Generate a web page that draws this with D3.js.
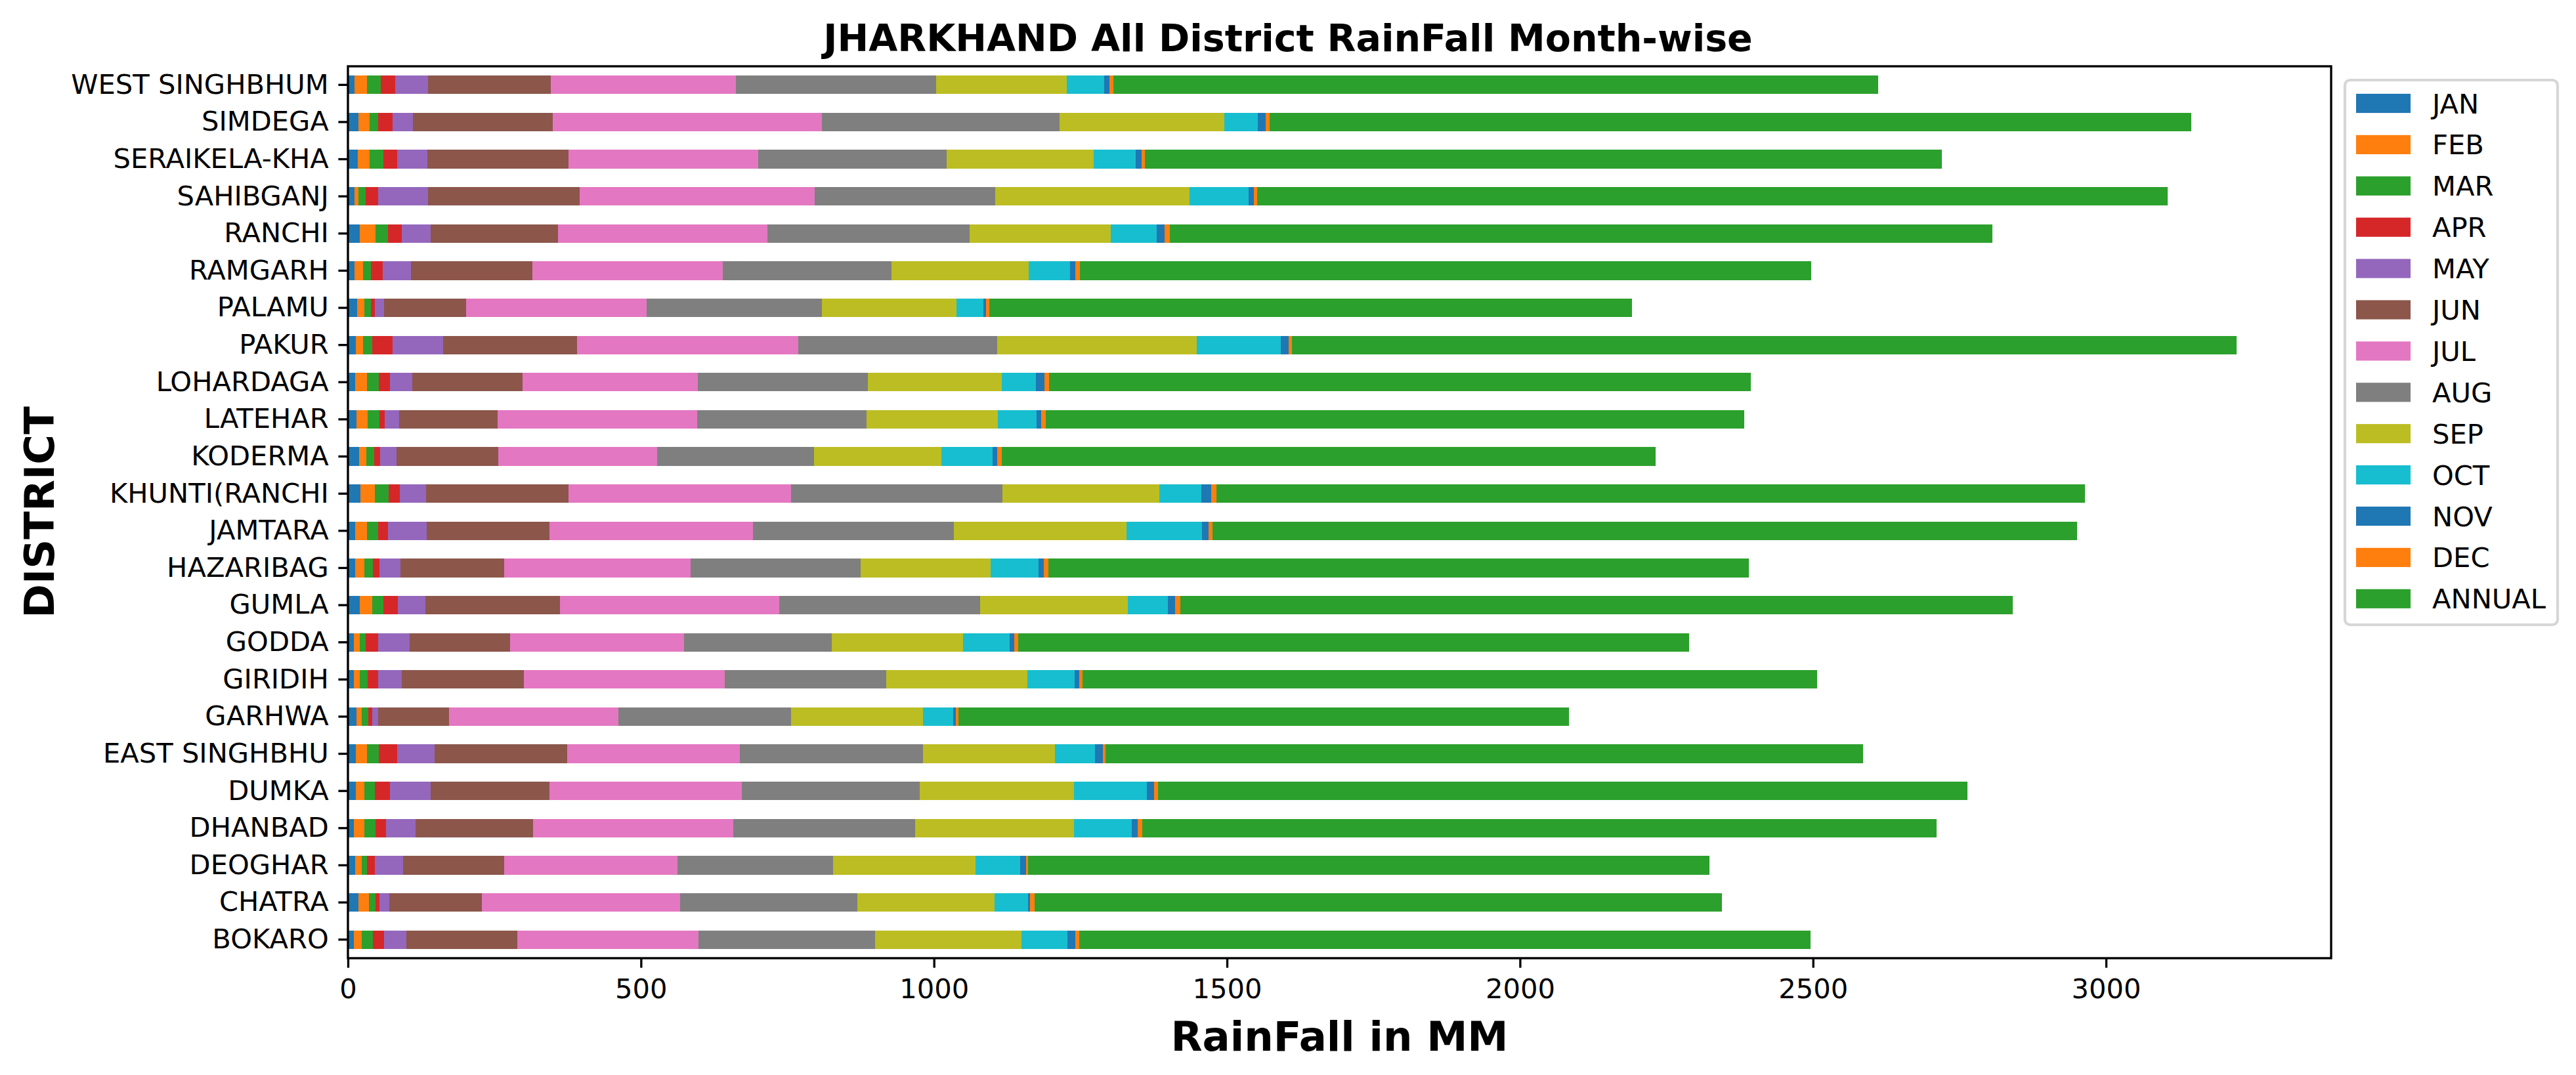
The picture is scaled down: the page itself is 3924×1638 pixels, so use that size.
<!DOCTYPE html>
<html><head><meta charset="utf-8">
<script src="https://cdn.jsdelivr.net/npm/d3@7"></script>
<style>
body{margin:0;background:#fff}
svg{display:block}
text{font-family:"DejaVu Sans",sans-serif}
</style>
</head><body>
<svg id="c" width="3924" height="1638"></svg>
<script>
// ---------- DATA ----------
const districts = ["BOKARO","CHATRA","DEOGHAR","DHANBAD","DUMKA","EAST SINGHBHU","GARHWA","GIRIDIH","GODDA","GUMLA","HAZARIBAG","JAMTARA","KHUNTI(RANCHI","KODERMA","LATEHAR","LOHARDAGA","PAKUR","PALAMU","RAMGARH","RANCHI","SAHIBGANJ","SERAIKELA-KHA","SIMDEGA","WEST SINGHBHUM"];
const seriesNames = ["JAN","FEB","MAR","APR","MAY","JUN","JUL","AUG","SEP","OCT","NOV","DEC","ANNUAL"];
const JAN = [10,18,12,10,14,14,15,10,10,20,12,12,21,19,15,12,14,16,11,20,11,17,18,11];
const FEB = [14,18,11,18,14,18,9,10,10,21,16,21,25,12,19,21,12,12,15,27,7,20,19,22];
const MAR = [19,11,10,19,18,21,11,14,10,19,15,18,24,14,20,20,16,11,13,21,12,23,14,23];
const APR = [19,7,13,18,26,31,7,18,21,25,11,17,18,10,9,19,34,7,20,24,22,24,25,25];
const MAY = [38,17,48,50,69,64,10,40,54,47,36,66,45,28,24,38,86,16,48,49,85,52,35,56];
const JUN = [189,158,173,201,203,226,121,208,172,230,177,210,243,173,168,188,229,140,208,218,258,240,238,209];
const JUL = [309,338,295,342,328,295,289,343,296,374,318,347,380,272,341,299,378,308,325,357,401,324,460,316];
const AUG = [301,302,266,310,304,312,294,276,253,343,290,343,361,267,289,290,339,299,287,345,308,322,405,342];
const SEP = [250,234,243,271,263,225,225,240,224,252,222,295,268,218,224,229,340,229,235,241,332,250,281,223];
const OCT = [79,57,76,98,124,69,52,81,79,68,82,128,71,87,66,58,144,46,70,78,101,72,58,63];
const NOV = [13,4,10,11,13,13,4,8,8,13,8,12,17,8,8,15,13,5,9,13,9,10,13,10];
const DEC = [7,8,4,7,6,5,5,6,7,8,8,6,9,8,8,7,6,6,8,10,6,6,7,6];
const ANNUAL = [1248,1172.5,1162,1355.5,1382,1292.5,1042,1253,1145,1421,1196,1476,1482.5,1116,1191.5,1197.5,1612,1096,1248.5,1403.5,1553.5,1359.5,1573,1305.5];
const xTickValues = [0,500,1000,1500,2000,2500,3000];
const seriesColors = ["#1f77b4","#ff7f0e","#2ca02c","#d62728","#9467bd","#8c564b","#e377c2","#7f7f7f","#bcbd22","#17becf","#1f77b4","#ff7f0e","#2ca02c"];
const titleText = "JHARKHAND All District RainFall Month-wise";
const xLabelText = "RainFall in MM";
const yLabelText = "DISTRICT";

// ---------- BUILD ----------
const seriesArrays = [JAN,FEB,MAR,APR,MAY,JUN,JUL,AUG,SEP,OCT,NOV,DEC,ANNUAL];
const rows = districts.map((d,i)=>{
  const r = {district:d};
  seriesNames.forEach((k,j)=>{ r[k] = seriesArrays[j][i]; });
  return r;
});
const stacked = d3.stack().keys(seriesNames)(rows);
const totals = rows.map(r=>d3.sum(seriesNames,k=>r[k]));

const W=3924, H=1638;
const P = {left:530, right:3551, top:101, bottom:1460};
const FS = 41.67, FSB = 62.5, FST = 57;
const tickLen = 14.6, lw = 3.33;

const svg = d3.select("#c");
const x = d3.scaleLinear().domain([0, d3.max(totals)*1.05]).range([P.left,P.right]);
const y = d3.scaleBand().domain(districts.slice().reverse()).range([P.top,P.bottom]).paddingInner(0.5).paddingOuter(0.25);
const color = d3.scaleOrdinal().domain(seriesNames).range(seriesColors);

// bars
const g = svg.append("g");
g.selectAll("g.layer").data(stacked).join("g")
  .attr("class","layer")
  .attr("fill",d=>color(d.key))
  .selectAll("rect").data(d=>d).join("rect")
  .attr("x",d=>x(d[0]))
  .attr("width",d=>x(d[1])-x(d[0]))
  .attr("y",d=>y(d.data.district))
  .attr("height",y.bandwidth())
  .attr("shape-rendering","crispEdges");

// axes
const xAxis = svg.append("g").attr("transform",`translate(0,${P.bottom})`)
  .call(d3.axisBottom(x).tickValues(xTickValues).tickFormat(d3.format("d")).tickSize(tickLen).tickSizeOuter(0).tickPadding(tickLen));
const yAxis = svg.append("g").attr("transform",`translate(${P.left},0)`)
  .call(d3.axisLeft(y).tickSize(tickLen).tickSizeOuter(0).tickPadding(tickLen));
[xAxis,yAxis].forEach(a=>{
  a.select(".domain").remove();
  a.selectAll(".tick line").attr("stroke","#000").attr("stroke-width",lw);
  a.selectAll(".tick text").attr("fill","#000").style("font-size",FS+"px").style("font-family","'DejaVu Sans'");
});
xAxis.selectAll(".tick text").attr("dy","0.76em");

// frame (spines)
svg.append("rect").attr("x",P.left).attr("y",P.top)
  .attr("width",P.right-P.left).attr("height",P.bottom-P.top)
  .attr("fill","none").attr("stroke","#000").attr("stroke-width",lw);

// title & labels
svg.append("text").attr("x",W/2).attr("y",78).attr("text-anchor","middle")
  .style("font-size",FST+"px").style("font-weight","bold").text(titleText);
svg.append("text").attr("x",(P.left+P.right)/2).attr("y",1601).attr("text-anchor","middle")
  .style("font-size",FSB+"px").style("font-weight","bold").text(xLabelText);
svg.append("text").attr("transform",`translate(82,${(P.top+P.bottom)/2}) rotate(-90)`).attr("text-anchor","middle")
  .style("font-size",FSB+"px").style("font-weight","bold").text(yLabelText);

// legend
const L = {x:3572, y:122, w:324, h:830, row:62.9, first:157.5};
const lg = svg.append("g");
lg.append("rect").attr("x",L.x).attr("y",L.y).attr("width",L.w).attr("height",L.h)
  .attr("rx",8).attr("ry",8)
  .attr("fill","#fff").attr("fill-opacity",0.8)
  .attr("stroke","#cccccc").attr("stroke-opacity",0.8).attr("stroke-width",4.17);
const items = lg.selectAll("g.item").data(seriesNames).join("g").attr("class","item")
  .attr("transform",(d,i)=>`translate(0,${L.first + i*L.row})`);
items.append("rect").attr("x",3589).attr("y",-14.6).attr("width",83).attr("height",29.2).attr("fill",d=>color(d));
items.append("text").attr("x",3705).attr("y",15).style("font-size",FS+"px").text(d=>d);
</script>
</body></html>
